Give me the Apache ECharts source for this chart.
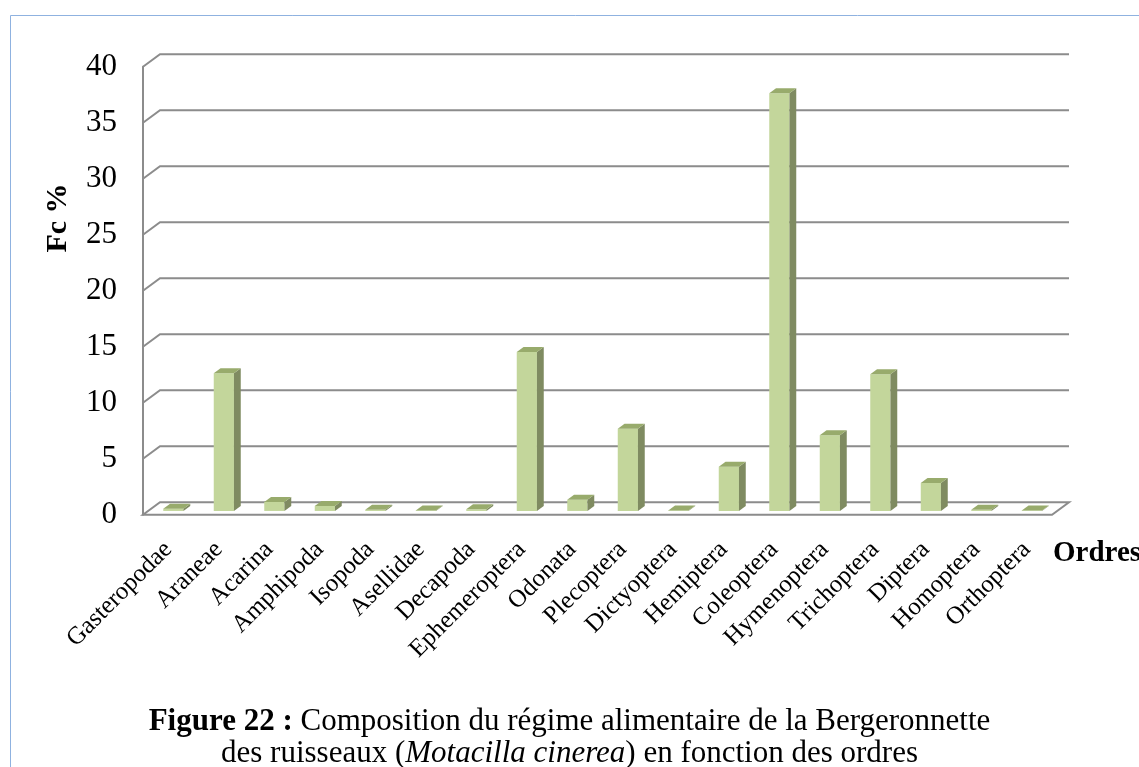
<!DOCTYPE html>
<html lang="fr">
<head>
    <meta charset="UTF-8">
    <title>Composition du régime alimentaire</title>
    <script src="https://cdn.jsdelivr.net/npm/echarts@6/dist/echarts.min.js"></script>
    <style>
        html, body { margin: 0; padding: 0; background: #fff; }
        #main { width: 1139px; height: 767px; }
    </style>
</head>
<body>
    <div id="main"></div>

    <script type="text/javascript">
        // ordres (categories) et frequences Fc %
        var ordres = ['Gasteropodae', 'Araneae', 'Acarina', 'Amphipoda', 'Isopoda', 'Asellidae',
            'Decapoda', 'Ephemeroptera', 'Odonata', 'Plecoptera', 'Dictyoptera', 'Hemiptera',
            'Coleoptera', 'Hymenoptera', 'Trichoptera', 'Diptera', 'Homoptera', 'Orthoptera'];
        var fc = [0.2, 12.3, 0.8, 0.45, 0.1, 0.05, 0.15, 14.2, 1.0, 7.35, 0.05, 3.95,
            37.3, 6.75, 12.2, 2.5, 0.1, 0.05];
        var yTicks = [0, 5, 10, 15, 20, 25, 30, 35, 40];

        var SERIF = 'Liberation Serif, Times New Roman, serif';
        // profondeur du "3D" (decalage du mur du fond)
        var DX = 17, DY = 12.5;
        var GRID_COLOR = '#8c8c8c';

        var myChart = echarts.init(document.getElementById('main'));

        // murs + lignes de grille
        function renderWall(params, api) {
            var cs = params.coordSys;
            var v = api.value(1);
            var y = api.coord([0, v])[1];
            var gx = cs.x, gr = cs.x + cs.width;
            var children = [];
            if (v === 0) {
                children.push({
                    type: 'polygon',
                    shape: { points: [[gx, y], [gr, y], [gr + DX, y - DY], [gx + DX, y - DY]] },
                    style: { fill: '#fff', stroke: GRID_COLOR, lineWidth: 2 }
                });
            } else {
                children.push({
                    type: 'polyline',
                    shape: { points: [[gx, y], [gx + DX, y - DY], [gr + DX, y - DY]] },
                    style: { fill: null, stroke: GRID_COLOR, lineWidth: 2 }
                });
            }
            return { type: 'group', children: children };
        }

        // barres en pseudo 3D
        function renderBar(params, api) {
            var base = api.coord([api.value(0), 0]);
            var top = api.coord([api.value(0), api.value(1)]);
            var bw = api.size([1, 0])[0] * 0.4;
            var ddx = 0.4 * DX, ddy = 0.4 * DY;
            var cx = top[0] + 0.3 * DX;
            var fl = cx - bw / 2, fr = cx + bw / 2;
            var yT = top[1] - 0.3 * DY, yB = base[1] - 0.3 * DY;
            return {
                type: 'group',
                children: [
                    {
                        type: 'rect',
                        shape: { x: fl, y: yT, width: bw, height: yB - yT },
                        style: { fill: '#c3d69b' }
                    },
                    {
                        type: 'polygon',
                        shape: { points: [[fr, yT], [fr + ddx, yT - ddy], [fr + ddx, yB - ddy], [fr, yB]] },
                        style: { fill: '#7f8b61' }
                    },
                    {
                        type: 'polygon',
                        shape: { points: [[fl, yT], [fr, yT], [fr + ddx, yT - ddy], [fl + ddx, yT - ddy]] },
                        style: { fill: '#98ab6c' }
                    }
                ]
            };
        }

        var option = {
            animation: false,
            backgroundColor: '#fff',
            title: [{
                left: 'center',
                top: 701,
                text: '{b|Figure 22 :} Composition du régime alimentaire de la Bergeronnette',
                textStyle: {
                    fontFamily: SERIF, fontSize: 31, fontWeight: 'normal', color: '#000',
                    rich: { b: { fontFamily: SERIF, fontSize: 31, fontWeight: 'bold', color: '#000' } }
                }
            }, {
                left: 'center',
                top: 733,
                text: 'des ruisseaux ({i|Motacilla cinerea}) en fonction des ordres',
                textStyle: {
                    fontFamily: SERIF, fontSize: 31, fontWeight: 'normal', color: '#000',
                    rich: { i: { fontFamily: SERIF, fontSize: 31, fontStyle: 'italic', color: '#000' } }
                }
            }],
            graphic: [{
                type: 'rect',
                shape: { x: 10.5, y: 15.5, width: 1200, height: 800 },
                style: { fill: null, stroke: '#8fb2e0', lineWidth: 1 },
                silent: true
            }, {
                type: 'text',
                x: 58, y: 218,
                rotation: Math.PI / 2,
                style: {
                    text: 'Fc %', fontFamily: SERIF, fontSize: 30, fontWeight: 'bold',
                    fill: '#000', align: 'center', verticalAlign: 'middle'
                }
            }, {
                type: 'text',
                x: 1053, y: 554,
                style: {
                    text: 'Ordres', fontFamily: SERIF, fontSize: 29, fontWeight: 'bold',
                    fill: '#000', align: 'left', verticalAlign: 'middle'
                }
            }],
            grid: {
                left: 143, right: 87, top: 66.7, bottom: 252.3,
                containLabel: false, outerBoundsMode: 'none'
            },
            xAxis: {
                type: 'category',
                data: ordres,
                axisLine: { show: false },
                axisTick: { show: false },
                axisLabel: {
                    interval: 0, rotate: 45, margin: 31,
                    fontFamily: SERIF, fontSize: 25, color: '#000'
                }
            },
            yAxis: {
                type: 'value',
                min: 0, max: 40, interval: 5,
                axisLine: { show: true, lineStyle: { color: GRID_COLOR, width: 2 } },
                axisTick: { show: false },
                splitLine: { show: false },
                axisLabel: { margin: 26, fontFamily: SERIF, fontSize: 31, color: '#000' }
            },
            series: [{
                type: 'custom',
                renderItem: renderWall,
                data: yTicks.map(function (t) { return [0, t]; }),
                z: 1,
                silent: true
            }, {
                type: 'custom',
                renderItem: renderBar,
                data: fc.map(function (v, i) { return [i, v]; }),
                z: 2
            }]
        };
        myChart.setOption(option);
    </script>
</body>
</html>
